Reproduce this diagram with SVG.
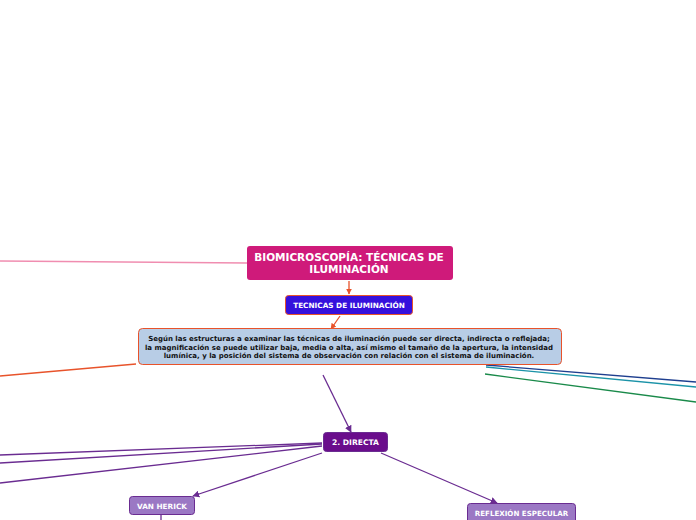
<svg xmlns="http://www.w3.org/2000/svg" width="696" height="520" viewBox="0 0 696 520">
<defs>
<marker id="aO" viewBox="0 0 10 10" refX="9" refY="5" markerWidth="6" markerHeight="6" orient="auto" markerUnits="userSpaceOnUse"><path d="M0,0 L10,5 L0,10 z" fill="#e8532b"/></marker>
<marker id="aP" viewBox="0 0 10 10" refX="9" refY="5" markerWidth="7" markerHeight="7" orient="auto" markerUnits="userSpaceOnUse"><path d="M0,0 L10,5 L0,10 z" fill="#6a2c91"/></marker>
</defs>
<style>
text{font-family:"DejaVu Sans",Verdana,sans-serif;font-weight:bold;text-anchor:middle}
.w{fill:#fff}
.k{fill:#111}
.c{fill:none;stroke-width:1.3}
.p{stroke:#6a2c91}
.o{stroke:#e8532b}
</style>
<rect width="696" height="520" fill="#fff"/>
<g id="connectors">
<line class="c" x1="0" y1="261" x2="247" y2="263" stroke="#f08db0"/>
<line class="c o" x1="349" y1="281" x2="349" y2="294" marker-end="url(#aO)"/>
<line class="c o" x1="340" y1="316" x2="331" y2="329" marker-end="url(#aO)"/>
<line class="c o" x1="0" y1="376" x2="136" y2="364"/>
<line class="c" x1="486" y1="365" x2="696" y2="382" stroke="#1f3f8f"/>
<line class="c" x1="486" y1="367" x2="696" y2="387" stroke="#1b93a8"/>
<line class="c" x1="485" y1="374" x2="696" y2="402" stroke="#1a8a4a"/>
<line class="c p" x1="323" y1="375" x2="351" y2="432" marker-end="url(#aP)"/>
<line class="c p" x1="322" y1="443" x2="0" y2="455"/>
<line class="c p" x1="322" y1="444" x2="0" y2="463"/>
<line class="c p" x1="322" y1="446" x2="0" y2="483"/>
<line class="c p" x1="322" y1="453" x2="193" y2="496" marker-end="url(#aP)"/>
<line class="c p" x1="381" y1="453" x2="497" y2="503" marker-end="url(#aP)"/>
<line class="c p" x1="161" y1="515" x2="161" y2="520"/>
</g>
<g id="title">
<rect x="247" y="246" width="206" height="34" rx="3" fill="#cf1a7a"/>
<text class="w" x="349" y="261" font-size="10.5">BIOMICROSCOPÍA: TÉCNICAS DE</text>
<text class="w" x="349" y="273" font-size="10.5">ILUMINACIÓN</text>
</g>
<g id="tecnicas">
<rect x="285.5" y="295.5" width="127" height="19" rx="3" fill="#3510dc" stroke="#e8532b"/>
<text class="w" x="349" y="308" font-size="7.3">TECNICAS DE ILUMINACIÓN</text>
</g>
<g id="descripcion">
<rect x="138.5" y="328.5" width="423" height="36" rx="4" fill="#b8cde6" stroke="#e8532b"/>
<text class="k" x="349" y="341" font-size="7">Según las estructuras a examinar las técnicas de iluminación puede ser directa, indirecta o reflejada;</text>
<text class="k" x="349" y="349.5" font-size="7">la magnificación se puede utilizar baja, media o alta, así mismo el tamaño de la apertura, la intensidad</text>
<text class="k" x="349" y="358" font-size="7">lumínica, y la posición del sistema de observación con relación con el sistema de iluminación.</text>
</g>
<g id="directa">
<rect x="323.5" y="432.5" width="64" height="19" rx="3" fill="#6a0d8c" stroke="#6a2c91"/>
<text class="w" x="355.5" y="445" font-size="7.6">2. DIRECTA</text>
</g>
<g id="vanherick">
<rect x="129.5" y="496.5" width="65" height="18" rx="3" fill="#9b78c4" stroke="#6a2c91"/>
<text class="w" x="162" y="509" font-size="7.3">VAN HERICK</text>
</g>
<g id="reflexion">
<rect x="467.5" y="503.5" width="108" height="22" rx="3" fill="#9b78c4" stroke="#6a2c91"/>
<text class="w" x="521.5" y="516" font-size="7.1">REFLEXIÓN ESPECULAR</text>
</g>
</svg>
